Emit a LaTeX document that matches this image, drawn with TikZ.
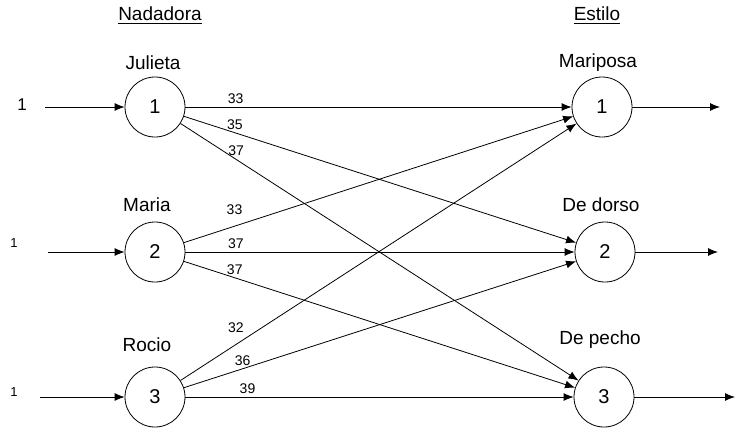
\documentclass[tikz,border=0pt]{standalone}
\usepackage{fontspec}
\setmainfont{Liberation Sans}
\usetikzlibrary{arrows.meta}

\begin{document}
\begin{tikzpicture}[x=0.5pt,y=-0.5pt,
    estado/.style={circle,draw,thin,minimum size=30pt,inner sep=0pt,font=\fontsize{10}{11}\selectfont},
    txt/.style={font=\fontsize{9.5}{11}\selectfont},
    uno/.style={font=\fontsize{6.5}{7}\selectfont},
    peso/.style={font=\fontsize{7}{8}\selectfont,inner sep=1.5pt,above},
    flecha/.style={-{Latex[length=5pt,width=4pt]},thin}]
  \useasboundingbox (0,0) rectangle (751,430);
  % titulos
  \node[txt] (tn) at (160,16) {\underline{Nadadora}};
  \node[txt] (te) at (597,16) {\underline{Estilo}};
  % nadadoras
  \node[estado] (n1) at (155,107) {1};
  \node[estado] (n2) at (155,252) {2};
  \node[estado] (n3) at (155,397) {3};
  \node[txt] (ln1) at (153,63) {Julieta};
  \node[txt] (ln2) at (147,205) {Maria};
  \node[txt] (ln3) at (147,345) {Rocio};
  % estilos
  \node[estado] (e1) at (602,107) {1};
  \node[estado] (e2) at (605,252) {2};
  \node[estado] (e3) at (604,397) {3};
  \node[txt] (le1) at (598,63) {Mariposa};
  \node[txt] (le2) at (601,205) {De dorso};
  \node[txt] (le3) at (600,340) {De pecho};
  % ofertas
  \node[font=\fontsize{8.5}{9}\selectfont] (o1) at (22,105) {1};
  \node[uno] (o2) at (14,243) {1};
  \node[uno] (o3) at (14,392) {1};
  \coordinate (i1) at (45,107);
  \coordinate (i2) at (48,252);
  \coordinate (i3) at (40,397);
  \draw[flecha] (i1) -- (n1);
  \draw[flecha] (i2) -- (n2);
  \draw[flecha] (i3) -- (n3);
  % demandas
  \coordinate (d1) at (720,107);
  \coordinate (d2) at (718,252);
  \coordinate (d3) at (735,397);
  \draw[flecha] (e1) -- (d1);
  \draw[flecha] (e2) -- (d2);
  \draw[flecha] (e3) -- (d3);
  % tiempos
  \draw[flecha] (n1) -- node[peso,pos=0.13]{33} (e1);
  \draw[flecha] (n1) -- node[peso,pos=0.13]{35} (e2);
  \draw[flecha] (n1) -- node[peso,pos=0.14]{37} (e3);
  \draw[flecha] (n2) -- node[peso,pos=0.13,yshift=4pt]{33} (e1);
  \draw[flecha] (n2) -- node[peso,pos=0.13]{37} (e2);
  \draw[flecha] (n2) -- node[peso,pos=0.13]{37} (e3);
  \draw[flecha] (n3) -- node[peso,pos=0.14,yshift=4pt]{32} (e1);
  \draw[flecha] (n3) -- node[peso,pos=0.15]{36} (e2);
  \draw[flecha] (n3) -- node[peso,pos=0.16]{39} (e3);
\end{tikzpicture}
\end{document}
